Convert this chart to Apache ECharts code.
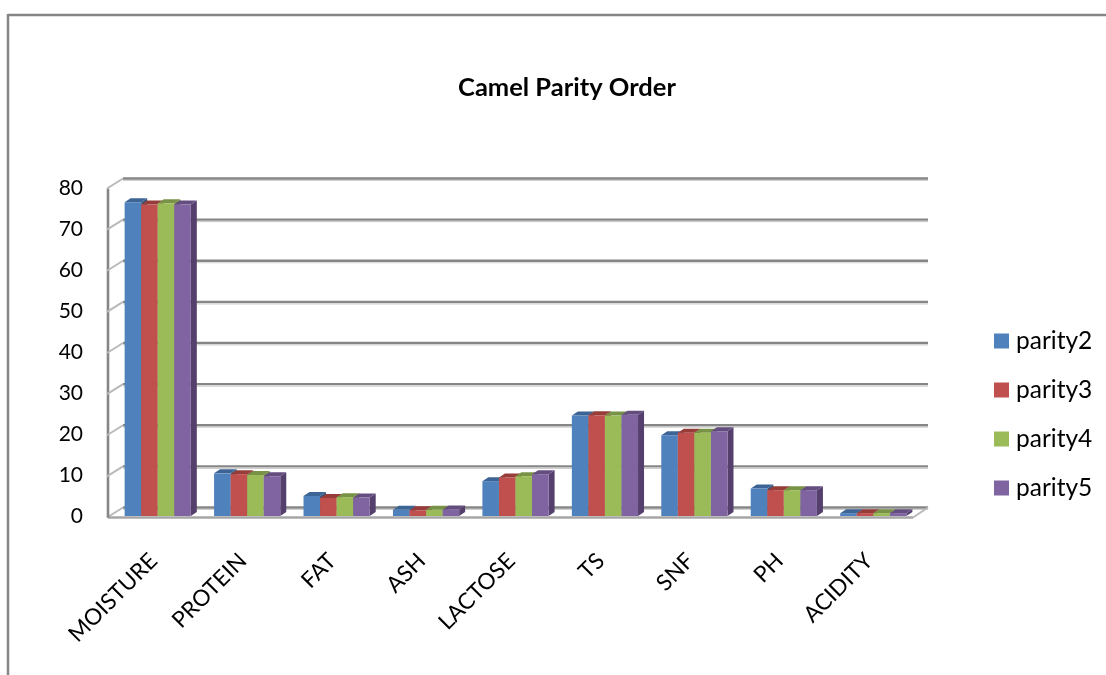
<!DOCTYPE html>
<html>
<head>
<meta charset="utf-8">
<style>html,body{margin:0;padding:0;background:#fff}#chart{width:1106px;height:675px}</style>
<script src="https://cdn.jsdelivr.net/npm/echarts@6/dist/echarts.min.js"></script>
</head>
<body>
<div id="chart"></div>
<script>
// Milk composition by camel parity
const categories = ['MOISTURE','PROTEIN','FAT','ASH','LACTOSE','TS','SNF','PH','ACIDITY'];
const parity2 = [76.5,10.4,4.9,1.5,8.5,24.5,19.7,6.7,0.7];
const parity3 = [76.0,10.2,4.4,1.4,9.4,24.6,20.3,6.3,0.7];
const parity4 = [76.3,10.0,4.6,1.5,9.7,24.5,20.3,6.3,0.7];
const parity5 = [76.0,9.7,4.5,1.6,10.2,24.7,20.7,6.3,0.7];
const seriesNames = ['parity2','parity3','parity4','parity5'];
const seriesValues = [parity2,parity3,parity4,parity5];
const faceColors = ['#4f81bd','#c0504d','#9bbb59','#8064a2'];
const topColors = ['#3c6494','#963d3a','#789246','#634e7f'];
const sideColors = ['#34567f','#813431','#677d3c','#553f6d'];
const axisTicks = [0,10,20,30,40,50,60,70,80];

const frameGray = '#868686';
const lightGray = '#b9b9b9';
const FONT = 'Lato, "Open Sans", sans-serif';

// Front edge of the plot sits this far from the back wall
const wallDx = -15, wallDy = 10;
// Extrusion of each bar
const barDx = 6, barDy = -4;
const barWidthRatio = 0.185;

function barRenderer(si) {
  return function (params, api) {
    const cat = api.value(0), val = api.value(1);
    const base = api.coord([cat, 0]);
    const top = api.coord([cat, val]);
    const band = api.size([1, 0])[0];
    const w = band * barWidthRatio;
    const x0 = base[0] - 2 * w + si * w;
    const x1 = x0 + w;
    const y0 = base[1], y1 = top[1];
    const children = [
      {type:'polygon', shape:{points:[[x1,y0],[x1,y1],[x1+barDx,y1+barDy],[x1+barDx,y0+barDy]]},
        style:{fill:sideColors[si]}},
      {type:'polygon', shape:{points:[[x0,y1],[x1,y1],[x1+barDx,y1+barDy],[x0+barDx,y1+barDy]]},
        style:{fill:topColors[si]}},
      {type:'rect', shape:{x:x0,y:y1,width:w,height:y0-y1}, style:{fill:faceColors[si]}}
    ];
    return {type:'group', children};
  };
}

// Back wall gridlines, the slanted edges joining them to the front, and the floor
function wallRenderer(params, api) {
  const v = api.value(0);
  const y = api.coord([0, v])[1];
  const rect = params.coordSys;
  const lx = rect.x, rx = rect.x + rect.width;
  const fy = y + wallDy;
  const children = [
    {type:'line', shape:{x1:lx,y1:y,x2:rx,y2:y}, style:{stroke:frameGray,lineWidth:2.4}},
    {type:'line', shape:{x1:lx,y1:y+2,x2:rx,y2:y+2}, style:{stroke:'#cfcfcf',lineWidth:1.2}},
    {type:'line', shape:{x1:lx+wallDx-1,y1:fy,x2:lx,y2:y}, style:{stroke:lightGray,lineWidth:2}}
  ];
  if (v === 0) {
    const topY = api.coord([0, 80])[1];
    children.push({type:'line', shape:{x1:rx,y1:y,x2:rx+wallDx,y2:fy}, style:{stroke:lightGray,lineWidth:2}});
    children.push({type:'line', shape:{x1:lx+wallDx,y1:fy,x2:rx+wallDx,y2:fy}, style:{stroke:'#a6a6a6',lineWidth:2.4}});
    children.push({type:'line', shape:{x1:lx+wallDx,y1:topY+wallDy,x2:lx+wallDx,y2:fy}, style:{stroke:frameGray,lineWidth:2.6}});
  }
  return {type:'group', children};
}

const barSeries = seriesNames.map((name, si) => ({
  name, type:'custom', xAxisIndex:0, yAxisIndex:0, z:5,
  encode:{x:0,y:1},
  itemStyle:{color:faceColors[si]},
  renderItem:barRenderer(si),
  data:categories.map((c, i) => [i, seriesValues[si][i]])
}));

const chart = echarts.init(document.getElementById('chart'), null, {renderer:'canvas'});
chart.setOption({
  animation:false,
  backgroundColor:'#ffffff',
  textStyle:{fontFamily:FONT},
  title:{text:'Camel Parity Order', left:562, textAlign:'center', top:70,
    textStyle:{fontFamily:FONT,fontSize:25.5,fontWeight:'bold',color:'#000'}},
  legend:{orient:'vertical', left:989, top:323.5, itemWidth:15, itemHeight:15, itemGap:24, itemStyle:{borderWidth:0},
    icon:'rect', data:seriesNames,
    textStyle:{fontFamily:FONT,fontSize:24.5,color:'#000',padding:[0,0,0,2]}},
  grid:[
    {left:113, width:805, top:188, height:328},
    {left:123, width:805, top:178.5, height:329}
  ],
  xAxis:[
    {type:'category', gridIndex:0, data:categories, axisLine:{show:false}, axisTick:{show:false},
      axisLabel:{rotate:45, interval:0, margin:37, padding:[0,6,0,0], fontFamily:FONT, fontSize:22.5, color:'#000'}},
    {type:'category', gridIndex:1, data:categories, show:false}
  ],
  yAxis:[
    {type:'value', gridIndex:0, min:0, max:80, interval:10, axisLine:{show:false}, axisTick:{show:false},
      splitLine:{show:false},
      axisLabel:{margin:30, padding:[6,0,0,0], fontFamily:FONT, fontSize:21, color:'#000'}},
    {type:'value', gridIndex:1, min:0, max:80, interval:10, show:false}
  ],
  series:[
    {type:'custom', name:'wall', xAxisIndex:1, yAxisIndex:1, z:1, encode:{y:0}, silent:true,
      renderItem:wallRenderer, data:axisTicks.map(t => [t])},
    ...barSeries
  ],
  graphic:[
    {type:'line', shape:{x1:8,y1:15,x2:1106,y2:15}, style:{stroke:frameGray,lineWidth:2.5}},
    {type:'line', shape:{x1:8,y1:14,x2:8,y2:675}, style:{stroke:frameGray,lineWidth:2.5}}
  ]
});
</script>
</body>
</html>
